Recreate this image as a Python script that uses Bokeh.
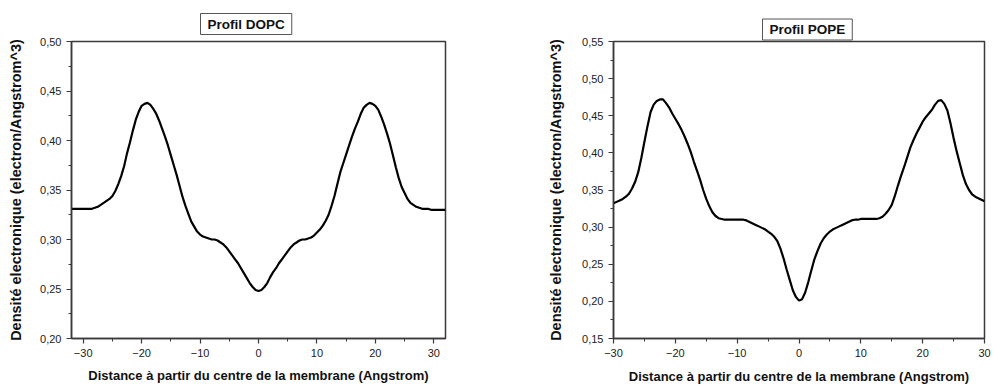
from bokeh.plotting import figure
from bokeh.layouts import row
from bokeh.models import Range1d, FixedTicker
from bokeh.embed import file_html
from bokeh.resources import INLINE

# ---------------- data ----------------
dopc_x = [i * 0.5 for i in range(-64, 65)]
dopc_y = [
    # -32 .. 0
    0.331, 0.331, 0.331, 0.331, 0.331, 0.331, 0.331, 0.331, 0.332, 0.333,
    0.335, 0.337, 0.339, 0.341, 0.344, 0.349, 0.356, 0.364, 0.374, 0.387,
    0.398, 0.410, 0.421, 0.429, 0.435, 0.437, 0.438, 0.436, 0.432, 0.427,
    0.420, 0.412, 0.404, 0.395, 0.385, 0.375, 0.365, 0.354, 0.343, 0.334,
    0.326, 0.318, 0.313, 0.308, 0.305, 0.303, 0.302, 0.301, 0.300, 0.300,
    0.299, 0.297, 0.295, 0.292, 0.288, 0.284, 0.280, 0.276, 0.271, 0.266,
    0.261, 0.256, 0.252, 0.249, 0.248,
    # 0.5 .. 32
    0.249, 0.252, 0.256, 0.262, 0.267, 0.271, 0.276, 0.280, 0.284, 0.288,
    0.292, 0.295, 0.297, 0.299, 0.300, 0.300, 0.301, 0.302, 0.304, 0.307,
    0.310, 0.314, 0.319, 0.325, 0.334, 0.344, 0.356, 0.368, 0.377, 0.386,
    0.395, 0.404, 0.412, 0.419, 0.427, 0.433, 0.436, 0.438, 0.437, 0.435,
    0.431, 0.424, 0.416, 0.407, 0.397, 0.385, 0.373, 0.362, 0.353, 0.347,
    0.341, 0.337, 0.335, 0.333, 0.332, 0.331, 0.331, 0.331, 0.330, 0.330,
    0.330, 0.330, 0.330, 0.330]

pope_x = [i * 0.5 for i in range(-60, 61)]
pope_y = [
    # -30 .. 0
    0.332, 0.334, 0.336, 0.338, 0.341, 0.345, 0.352, 0.361, 0.374, 0.393,
    0.415, 0.436, 0.455, 0.465, 0.470, 0.472, 0.472, 0.467, 0.461, 0.453,
    0.446, 0.439, 0.431, 0.422, 0.412, 0.401, 0.388, 0.376, 0.364, 0.350,
    0.338, 0.328, 0.320, 0.315, 0.312, 0.311, 0.310, 0.310, 0.310, 0.310,
    0.310, 0.310, 0.310, 0.309, 0.307, 0.305, 0.303, 0.301, 0.299, 0.297,
    0.294, 0.291, 0.287, 0.281, 0.271, 0.258, 0.243, 0.229, 0.215, 0.206,
    0.201,
    # 0.5 .. 30
    0.203, 0.212, 0.226, 0.242, 0.257, 0.268, 0.278, 0.285, 0.290, 0.294,
    0.297, 0.299, 0.301, 0.303, 0.305, 0.307, 0.309, 0.310, 0.310, 0.311,
    0.311, 0.311, 0.311, 0.311, 0.311, 0.312, 0.314, 0.318, 0.323, 0.330,
    0.342, 0.356, 0.369, 0.381, 0.394, 0.407, 0.417, 0.426, 0.434, 0.442,
    0.448, 0.453, 0.458, 0.465, 0.470, 0.471, 0.466, 0.457, 0.440, 0.420,
    0.402, 0.386, 0.370, 0.358, 0.350, 0.344, 0.341, 0.339, 0.337, 0.335]

x_ticks = [-30, -20, -10, 0, 10, 20, 30]
x_minor = [-35, -25, -15, -5, 5, 15, 25, 35]

dopc_yticks = [0.20, 0.25, 0.30, 0.35, 0.40, 0.45, 0.50]
dopc_ylabels = ["0,20", "0,25", "0,30", "0,35", "0,40", "0,45", "0,50"]
dopc_yminor = [0.225, 0.275, 0.325, 0.375, 0.425, 0.475]

pope_yticks = [0.15, 0.20, 0.25, 0.30, 0.35, 0.40, 0.45, 0.50, 0.55]
pope_ylabels = ["0,15", "0,20", "0,25", "0,30", "0,35", "0,40", "0,45", "0,50", "0,55"]
pope_yminor = [0.175, 0.225, 0.275, 0.325, 0.375, 0.425, 0.475, 0.525]

titles = ["Profil DOPC", "Profil POPE"]
xlabel = "Distance à partir du centre de la membrane (Angstrom)"
ylabel = "Densité electronique (electron/Angstrom^3)"

FONT = "Liberation Sans"
AX = "#3a3a3a"


def make(xs, ys, xr, yr, yt, yl, ym, title, width, borders, toff, xstand, ystand, tstand):
    p = figure(width=width, height=389, output_backend="svg", toolbar_location=None,
               x_range=Range1d(*xr), y_range=Range1d(*yr),
               min_border_left=borders[0], min_border_right=borders[1],
               min_border_top=borders[2], min_border_bottom=borders[3])
    p.line(xs, ys, line_color="black", line_width=2.2)
    p.xgrid.visible = False
    p.ygrid.visible = False
    p.outline_line_color = AX
    p.outline_line_width = 1.5
    p.background_fill_color = "white"
    p.border_fill_color = "white"

    p.xaxis.ticker = FixedTicker(ticks=x_ticks, minor_ticks=x_minor)
    p.yaxis.ticker = FixedTicker(ticks=yt, minor_ticks=ym)
    p.yaxis.major_label_overrides = {t: l for t, l in zip(yt, yl)}
    for ax in (p.xaxis, p.yaxis):
        ax.axis_line_color = AX
        ax.axis_line_width = 1.5
        ax.major_tick_line_color = AX
        ax.minor_tick_line_color = AX
        ax.major_tick_line_width = 1.2
        ax.minor_tick_line_width = 1
        ax.major_tick_in = 0
        ax.major_tick_out = 5
        ax.minor_tick_in = 0
        ax.minor_tick_out = 3
        ax.major_label_text_font = FONT
        ax.major_label_text_font_size = "11px"
        ax.major_label_text_color = "#222222"
        ax.axis_label_text_font = FONT
        ax.axis_label_text_font_style = "bold"
        ax.axis_label_text_color = "#111111"
    p.xaxis.axis_label = xlabel
    p.yaxis.axis_label = ylabel
    p.xaxis.axis_label_text_font_size = "13px"
    p.yaxis.axis_label_text_font_size = "14.5px"
    p.xaxis.axis_label_standoff = xstand
    p.yaxis.axis_label_standoff = ystand

    p.title.text = title
    p.title.text_font = FONT
    p.title.text_font_style = "bold"
    p.title.text_font_size = "13.5px"
    p.title.text_color = "#111111"
    p.title.align = "left"
    p.title.offset = toff
    p.title.border_line_color = "#555555"
    p.title.border_line_width = 1
    p.title.background_fill_color = "white"
    p.title.padding = dict(left=7, right=7, top=3, bottom=3)
    p.title.standoff = tstand
    return p


p1 = make(dopc_x, dopc_y, (-32, 32), (0.20, 0.50), dopc_yticks, dopc_ylabels, dopc_yminor,
          titles[0], 490, (71, 45, 41, 46), 129, 8, 13, 14)
p2 = make(pope_x, pope_y, (-30, 30), (0.15, 0.55), pope_yticks, pope_ylabels, pope_yminor,
          titles[1], 503, (123, 9, 34, 51), 149, 9, 15, 3)

layout = row(p1, p2)
open("out.html", "w").write(file_html(layout, INLINE))
